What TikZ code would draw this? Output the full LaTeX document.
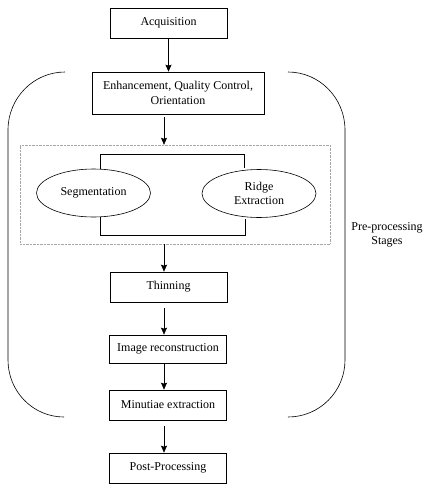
\documentclass[tikz,border=0pt]{standalone}
\usepackage{fontspec}
\setmainfont{Liberation Serif}
\usetikzlibrary{arrows.meta,shapes.geometric}

\begin{document}
\begin{tikzpicture}[x=1pt,y=-1pt,>={Stealth[length=7pt,width=6pt,inset=1pt]},
	line width=0.6pt,
	every node/.style={font=\fontsize{12}{14.5}\selectfont},
	stage/.style={draw,rectangle,inner sep=0pt,minimum width=117pt,minimum height=30pt},
	blob/.style={draw,ellipse,inner sep=0pt,minimum width=114pt,minimum height=48pt,align=center},
	gap/.style={shorten <=6pt}
	]
	\useasboundingbox (0,0) rectangle (426,499);

	\node[stage] (acq) at (168.5,23) {Acquisition};
	\node[stage,minimum width=172pt,minimum height=42pt,align=center] (enh) at (178,93) {Enhancement, Quality Control,\\Orientation};
	\node[draw=gray!70,densely dotted,line width=0.4pt,inner sep=0pt,minimum width=310pt,minimum height=99pt] (grp) at (175,194.5) {};
	\node[blob] (seg) at (93.5,193) {Segmentation};
	\node[blob] (ridge) at (259,193.5) {Ridge\\Extraction};
	\node[stage] (thin) at (168.5,287) {Thinning};
	\node[stage,minimum height=28pt] (recon) at (168,349) {Image reconstruction};
	\node[stage] (minu) at (168,405) {Minutiae extraction};
	\node[stage] (post) at (168,468) {Post-Processing};
	\node[align=center,font=\fontsize{12}{14}\selectfont] (stages) at (387,235) {Pre-processing\\Stages};

	\coordinate (spine) at (164,0);
	\coordinate (jtl) at (100,154);
	\coordinate (jtr) at (244,154);
	\coordinate (jbl) at (100,235);
	\coordinate (jbr) at (245,235);

	\draw[->] (acq) -- (acq |- enh.north);
	\draw[->] ([yshift=-3pt]enh.south -| spine) -- (grp.north -| spine);
	\draw[->] (grp.south -| spine) -- (thin.north -| spine);
	\draw[->,gap] (thin.south -| spine) -- (recon.north -| spine);
	\draw[->] (recon.south -| spine) -- (minu.north -| spine);
	\draw[->,gap] (minu.south -| spine) -- (post.north -| spine);

	\draw (jtl |- seg.north) -- (jtl) -- (jtr) -- ([yshift=1pt]jtr |- ridge.north);
	\draw (jbl |- seg.south) -- (jbl) -- (jbr) -- ([yshift=-1pt]jbr |- ridge.south);

	\draw (65,72) .. controls (33.5,72) and (8,98) .. (8,130) -- (8,360)
		.. controls (8,391.5) and (33,417) .. (64,417);
	\draw (288,72) .. controls (319.5,72) and (345,98) .. (345,130) -- (345,360)
		.. controls (345,391.5) and (319.5,417) .. (288,417);

\end{tikzpicture}
\end{document}
